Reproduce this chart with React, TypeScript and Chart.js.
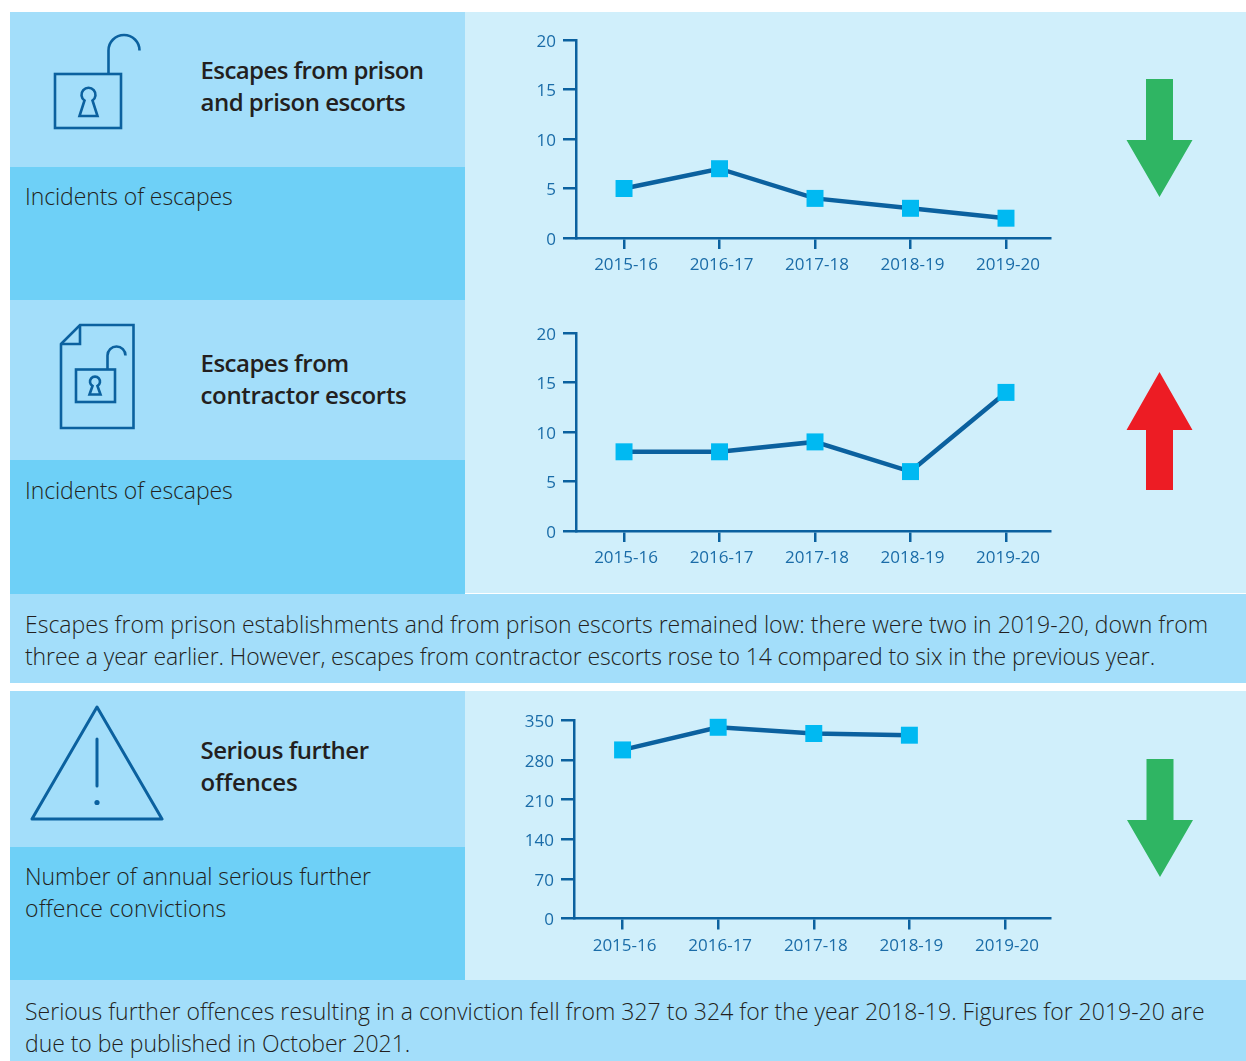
import React, { useEffect, useRef } from "react";
import { Chart, registerables } from "chart.js";

Chart.register(...registerables);

const years = ["2015-16", "2016-17", "2017-18", "2018-19", "2019-20"];
const prisonEscapes = [5, 7, 4, 3, 2];
const contractorEscapes = [8, 8, 9, 6, 14];
const seriousOffences = [298, 338, 327, 324, null];
const escapeTicks = [0, 5, 10, 15, 20];
const offenceTicks = [0, 70, 140, 210, 280, 350];

const NAVY = "#0b619f";
const TICK_TEXT = "#1a6ca8";
const MARKER = "#00b9f2";
const PALE = "#d0effb";
const LIGHT = "#a3defa";
const MID = "#6ed0f7";
const INK = "#231f20";
const FONT = '"Open Sans", sans-serif';

type TrendProps = {
  values: (number | null)[];
  yTicks: number[];
  left: number;
  top: number;
  axisLeft: number;
  plotTop: number;
  plotBottom: number;
  axisRight: number;
  xMin: number;
  xMax: number;
};

function TrendChart(p: TrendProps) {
  const ref = useRef<HTMLCanvasElement>(null);
  const width = 570;
  const height = 250;
  useEffect(() => {
    const chart = new Chart(ref.current!, {
      type: "line",
      data: {
        datasets: [
          {
            data: p.values.map((v, i) => ({ x: i, y: v })),
            borderColor: NAVY,
            borderWidth: 4.5,
            pointStyle: "rect",
            pointRadius: 12,
            pointHoverRadius: 12,
            pointBorderWidth: 0,
            pointBackgroundColor: MARKER,
            tension: 0,
            clip: false,
          },
        ],
      } as any,
      options: {
        animation: false,
        responsive: false,
        events: [],
        layout: {
          autoPadding: false,
          padding: {
            top: p.plotTop - p.top,
            right: p.left + width - p.axisRight,
            left: 0,
            bottom: 0,
          },
        },
        plugins: { legend: { display: false }, tooltip: { enabled: false } },
        scales: {
          x: {
            type: "linear",
            min: p.xMin,
            max: p.xMax,
            afterBuildTicks: (s: any) => {
              s.ticks = years.map((_, i) => ({ value: i }));
            },
            afterFit: (s: any) => {
              s.height = p.top + height - p.plotBottom;
              s.paddingLeft = 0;
              s.paddingRight = 0;
            },
            grid: { drawOnChartArea: false, tickLength: 11, color: NAVY, lineWidth: 2.5 },
            border: { color: NAVY, width: 2.5 },
            ticks: {
              autoSkip: false,
              maxRotation: 0,
              padding: 6,
              labelOffset: 2,
              color: TICK_TEXT,
              font: { family: FONT, size: 17 },
              callback: (v: any) => years[v as number],
            },
          },
          y: {
            type: "linear",
            min: 0,
            max: p.yTicks[p.yTicks.length - 1],
            afterBuildTicks: (s: any) => {
              s.ticks = p.yTicks.map((value) => ({ value }));
            },
            afterFit: (s: any) => {
              s.width = p.axisLeft - p.left;
              s.paddingTop = 0;
              s.paddingBottom = 0;
            },
            grid: { drawOnChartArea: false, tickLength: 13, color: NAVY, lineWidth: 2.5 },
            border: { color: NAVY, width: 2.5 },
            ticks: {
              padding: 7,
              labelOffset: 2,
              color: TICK_TEXT,
              font: { family: FONT, size: 17 },
            },
          },
        },
      } as any,
    });
    return () => chart.destroy();
  }, []);
  return (
    <canvas
      ref={ref}
      width={width}
      height={height}
      style={{ position: "absolute", left: p.left, top: p.top, width, height }}
    />
  );
}

function Box(props: { x: number; y: number; w: number; h: number; c: string }) {
  return (
    <div
      style={{
        position: "absolute",
        left: props.x,
        top: props.y,
        width: props.w,
        height: props.h,
        background: props.c,
      }}
    />
  );
}

function Label(props: { x: number; y: number; bold?: boolean; spacing?: number; children: React.ReactNode }) {
  return (
    <div
      style={{
        position: "absolute",
        left: props.x,
        top: props.y,
        whiteSpace: "nowrap",
        fontFamily: FONT,
        fontSize: props.bold ? 24 : 23,
        lineHeight: "32px",
        fontWeight: props.bold ? 600 : 300,
        letterSpacing: props.spacing ?? 0,
        color: INK,
      }}
    >
      {props.children}
    </div>
  );
}

export default function App() {
  useEffect(() => {
    document.body.style.margin = "0";
    document.body.style.background = "#fff";
  }, []);
  return (
    <div style={{ position: "absolute", left: 0, top: 0, width: 1246, height: 1061, overflow: "hidden", background: "#fff" }}>
      <Box x={465} y={12} w={781} h={581} c={PALE} />
      <Box x={10} y={12} w={455} h={154.5} c={LIGHT} />
      <Box x={10} y={166.5} w={455} h={133.5} c={MID} />
      <Box x={10} y={300} w={455} h={160} c={LIGHT} />
      <Box x={10} y={460} w={455} h={133.5} c={MID} />
      <Box x={10} y={593.5} w={1236} h={89.5} c={LIGHT} />
      <Box x={465} y={691} w={781} h={289} c={PALE} />
      <Box x={10} y={691} w={455} h={156} c={LIGHT} />
      <Box x={10} y={847} w={455} h={133} c={MID} />
      <Box x={10} y={980} w={1236} h={81} c={LIGHT} />

      <Label x={200.5} y={54} bold spacing={-0.58}>Escapes from prison</Label>
      <Label x={200.5} y={86} bold spacing={-0.5}>and prison escorts</Label>
      <Label x={25} y={180} spacing={-0.1}>Incidents of escapes</Label>
      <Label x={200.5} y={347} bold spacing={-0.5}>Escapes from</Label>
      <Label x={200.5} y={379} bold spacing={-0.33}>contractor escorts</Label>
      <Label x={25} y={474} spacing={-0.1}>Incidents of escapes</Label>
      <Label x={25} y={608} spacing={0.01}>Escapes from prison establishments and from prison escorts remained low: there were two in 2019-20, down from</Label>
      <Label x={25} y={640} spacing={-0.11}>three a year earlier. However, escapes from contractor escorts rose to 14 compared to six in the previous year.</Label>
      <Label x={200.5} y={734} bold spacing={-0.47}>Serious further</Label>
      <Label x={200.5} y={766} bold spacing={-0.2}>offences</Label>
      <Label x={25} y={860} spacing={-0.06}>Number of annual serious further</Label>
      <Label x={25} y={892} spacing={0.15}>offence convictions</Label>
      <Label x={25} y={995} spacing={0.01}>Serious further offences resulting in a conviction fell from 327 to 324 for the year 2018-19. Figures for 2019-20 are</Label>
      <Label x={25} y={1027} spacing={-0.05}>due to be published in October 2021.</Label>

      <TrendChart values={prisonEscapes} yTicks={escapeTicks} left={510} top={30} axisLeft={576} plotTop={40} plotBottom={238} axisRight={1050.5} xMin={-0.503} xMax={4.466} />
      <TrendChart values={contractorEscapes} yTicks={escapeTicks} left={510} top={323} axisLeft={576} plotTop={333} plotBottom={531} axisRight={1050.5} xMin={-0.503} xMax={4.466} />
      <TrendChart values={seriousOffences} yTicks={offenceTicks} left={510} top={710} axisLeft={574} plotTop={720.5} plotBottom={918.5} axisRight={1050.5} xMin={-0.508} xMax={4.476} />

      <svg width={1246} height={1061} style={{ position: "absolute", left: 0, top: 0 }}>
        <g fill="none" stroke={NAVY} strokeWidth={2.6}>
          {/* open padlock */}
          <rect x={55} y={74} width={66} height={54} />
          <path d="M108.5 74V50.5a15.5 15.5 0 0 1 31 0" />
          <path d="M84.5 100.5a7 7 0 1 1 8 0L97.5 116H79.5Z" />
          {/* document with padlock */}
          <path d="M61 344 80 325H133.5V428H61Z" />
          <path d="M80 325V344H61" />
          <rect x={76} y={369.5} width={39} height={32.5} />
          <path d="M107.5 369.5V355.5a9 9 0 0 1 18 0" />
          <path d="M92.5 386a5 5 0 1 1 5 0L100.5 394.5H89.5Z" />
          {/* warning triangle */}
          <path d="M97 707 162 819H32Z" strokeWidth={3} strokeLinejoin="round" />
          <path d="M97 739V786" strokeWidth={3} strokeLinecap="round" />
        </g>
        <circle cx={97} cy={802.5} r={2.6} fill={NAVY} />
        <path d="M1146 79H1173V140H1192.5L1159.5 197 1126.5 140H1146Z" fill="#2fb563" />
        <path d="M1146 490H1173V430H1192.5L1159.5 372 1126.5 430H1146Z" fill="#ed1c24" />
        <path d="M1146.5 759H1173.5V820H1193L1160 877 1127 820H1146.5Z" fill="#2fb563" />
      </svg>
    </div>
  );
}
